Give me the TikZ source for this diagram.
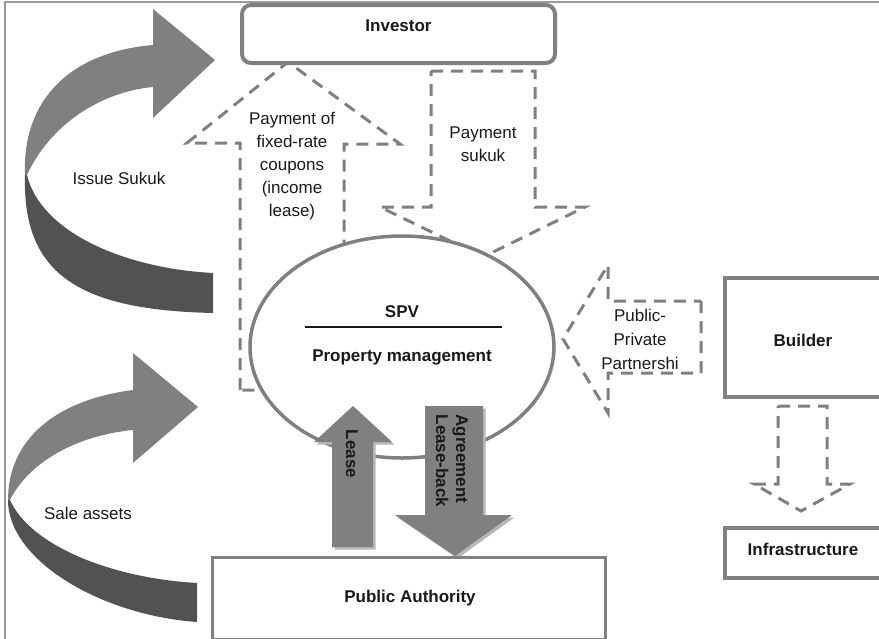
\documentclass[tikz,border=0pt]{standalone}
\usepackage{fontspec}
\setmainfont{Liberation Sans}
\usetikzlibrary{shapes.geometric,shadows}
\definecolor{lngray}{HTML}{808080}
\definecolor{darkband}{HTML}{525252}
\definecolor{shadowgray}{HTML}{B8B8B8}
\definecolor{framegray}{HTML}{9A9A9A}
\begin{document}
\begin{tikzpicture}[x=1pt,y=-1pt,
  font=\fontsize{17}{23}\selectfont,
  solidbox/.style={draw=lngray, line width=3.5pt, fill=white},
  flowarrow/.style={draw=lngray, line width=3pt, dash pattern=on 12pt off 8pt},
  boldlabel/.style={font=\fontsize{17}{20}\selectfont\bfseries, text=black!90},
  plainlabel/.style={text=black!90, align=center},
  fatarrow/.style={fill=lngray, drop shadow={shadow xshift=2.5pt, shadow yshift=-2.5pt, fill=shadowgray, opacity=1}},
  bandlight/.style={fill=lngray},
  banddark/.style={fill=darkband}]
\useasboundingbox (0,0) rectangle (879,638);
\clip (0,0) rectangle (879,638);

% outer frame
\draw[draw=framegray, line width=1.5pt] (5,640) -- (5,2) -- (879,2);

% curved arrow: Issue Sukuk
\path[banddark] (25,175) .. controls (22,275) and (80,310) .. (213,313)
  -- (213,273) .. controls (120,268) and (40,230) .. (27,175) -- cycle;
\path[bandlight] (25,175) .. controls (22,100) and (70,52) .. (153,45)
  -- (153,9) -- (215,60) -- (153,118) -- (153,87)
  .. controls (100,92) and (50,125) .. (27,175) -- cycle;
\node[plainlabel] (issue) at (119,178) {Issue Sukuk};

% curved arrow: Sale assets
\path[banddark] (8,500) .. controls (8,560) and (100,615) .. (197,622)
  -- (197,583) .. controls (110,578) and (30,545) .. (10,500) -- cycle;
\path[bandlight] (8,500) .. controls (8,440) and (55,400) .. (133,390)
  -- (133,353) -- (198,407) -- (133,463) -- (133,430)
  .. controls (80,435) and (30,460) .. (10,500) -- cycle;
\node[plainlabel] (sale) at (88,513) {Sale assets};

% dashed block arrows
\draw[flowarrow] (240,390) -- (240,143) -- (187,143) -- (288,62) -- (400,144)
  -- (344,144) -- (344,390) -- cycle;
\draw[flowarrow] (431,71) -- (535,71) -- (535,207) -- (585,207) -- (483,257)
  -- (380,207) -- (431,207) -- cycle;
\draw[flowarrow] (701,301) -- (701,373) -- (608,373) -- (608,413) -- (563,339)
  -- (608,265) -- (608,301) -- cycle;
\draw[flowarrow] (778,406) -- (827,406) -- (827,484) -- (850,484) -- (801,511)
  -- (754,484) -- (778,484) -- cycle;

\node[plainlabel] (coupons) at (292,166) {Payment of\\fixed-rate\\coupons\\(income\\lease)};
\node[plainlabel] (paysukuk) at (483,144) {Payment\\sukuk};
\node[plainlabel, font=\fontsize{17}{24}\selectfont] (ppp) at (640,339) {Public-\\Private\\Partnershi};

% investor
\node[solidbox, line width=4pt, rounded corners=9pt, minimum width=313pt, minimum height=58pt] (investor) at (398.5,34) {};
\node[boldlabel] (investortxt) at (398.5,26) {Investor};

% SPV
\node[solidbox, ellipse, minimum width=304pt, minimum height=222pt] (spv) at (402,347) {};
\node[boldlabel] (spvtxt) at (402,312) {SPV};
\node[boldlabel] (pmtxt) at (402,357) {Property management};
\draw[line width=1.6pt, black!90] (305,327) coordinate (rulel) -- (502,327) coordinate (ruler);

% lease arrows
\path[fatarrow] (332,547) -- (332,442) -- (314,442) -- (353,406) -- (392,442)
  -- (373,442) -- (373,547) -- cycle;
\path[fatarrow] (425,406) -- (483,406) -- (483,515) -- (512,515) -- (455,556)
  -- (395,515) -- (425,515) -- cycle;
\node[boldlabel, rotate=-90] (leasetxt) at (352,454) {Lease};
\node[boldlabel, rotate=-90, align=left] (agreetxt) at (452,461) {Agreement\\Lease-back};

% public authority
\node[solidbox, line width=3pt, minimum width=393pt, minimum height=82pt] (authority) at (408.5,598) {};
\node[boldlabel] (authoritytxt) at (410,598) {Public Authority};

% builder and infrastructure
\node[solidbox, line width=4pt, minimum width=157pt, minimum height=119pt] (builder) at (803.5,337.5) {};
\node[boldlabel] (buildertxt) at (803,340) {Builder};
\node[solidbox, line width=3.5pt, minimum width=157pt, minimum height=50pt] (infra) at (803.5,553) {};
\node[boldlabel] (infratxt) at (803,549) {Infrastructure};
\end{tikzpicture}
\end{document}
